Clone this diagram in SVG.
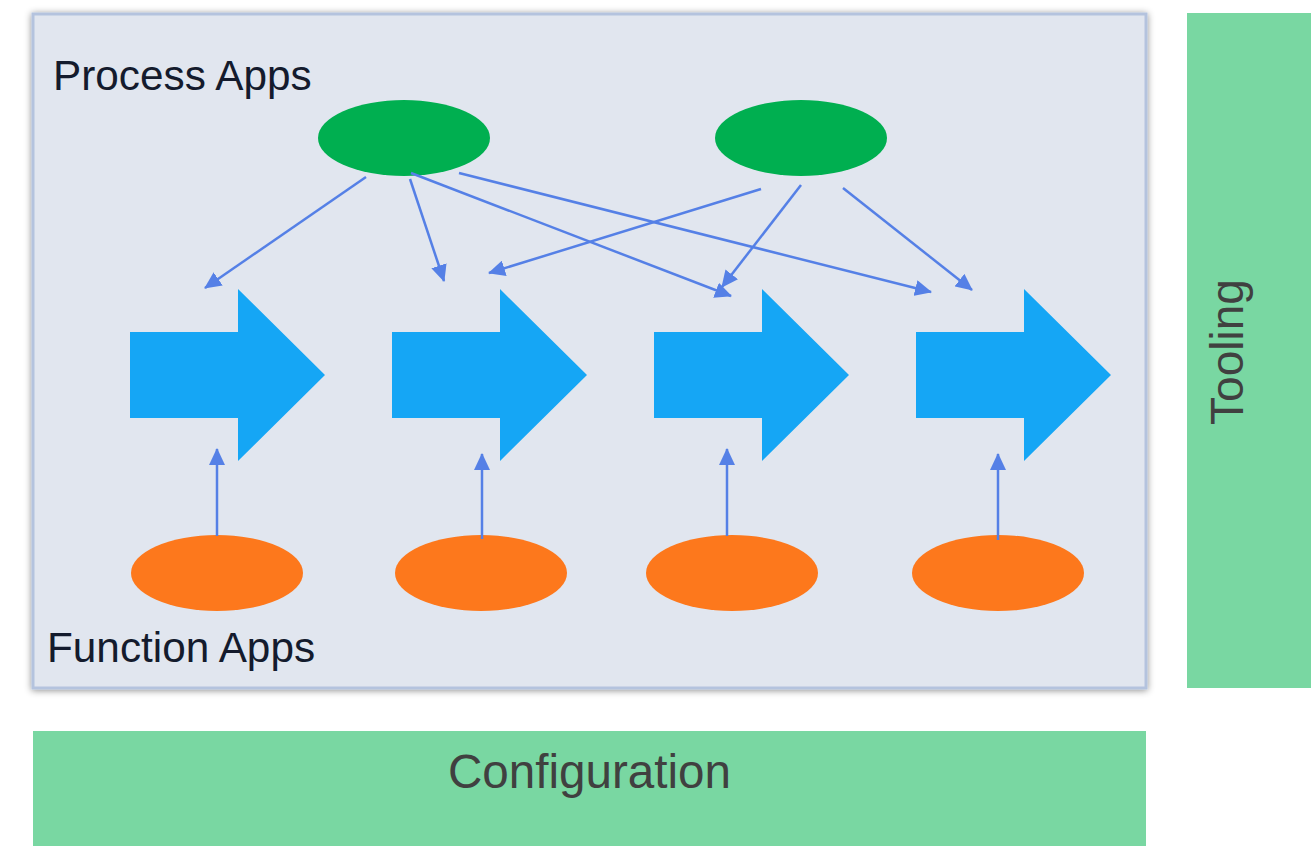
<svg xmlns="http://www.w3.org/2000/svg" width="1316" height="846" viewBox="0 0 1316 846">
<style>
.band{fill:#79d7a2}
.proc{fill:#00af50}
.func{fill:#fd781c}
.step{fill:#15a6f5}
.conn line{stroke:#5580e6;stroke-width:2.5;marker-end:url(#ah)}
.lbl{font-family:"Liberation Sans",Arial,sans-serif;font-size:42.3px;fill:#141b2d}
.blbl{font-family:"Liberation Sans",Arial,sans-serif;fill:#404040}
</style>
<defs>
<marker id="ah" markerUnits="userSpaceOnUse" markerWidth="17" markerHeight="16" refX="16" refY="8" orient="auto">
<path d="M0,0 L17,8 L0,16 Z" fill="#5580e6"/>
</marker>
<filter id="sh" x="-5%" y="-5%" width="110%" height="110%">
<feDropShadow dx="0" dy="1" stdDeviation="3.5" flood-color="#000" flood-opacity="0.45"/>
</filter>
</defs>
<rect width="1316" height="846" fill="#ffffff"/>
<g id="frame">
<rect x="33" y="14" width="1113" height="674" fill="#e1e6ef" stroke="#b4c3de" stroke-width="3" filter="url(#sh)"/>
<text class="lbl" x="53" y="90">Process Apps</text>
<text class="lbl" x="47" y="662">Function Apps</text>
</g>
<g id="tooling">
<rect class="band" x="1187" y="13" width="124" height="675"/>
<text class="blbl" font-size="46" text-anchor="middle" transform="translate(1243,352) rotate(-90)">Tooling</text>
</g>
<g id="configuration">
<rect class="band" x="33" y="731" width="1113" height="115"/>
<text class="blbl" font-size="47.6" x="589.5" y="788" text-anchor="middle">Configuration</text>
</g>
<g id="process-app-1"><ellipse class="proc" cx="404" cy="138" rx="86" ry="38"/></g>
<g id="process-app-2"><ellipse class="proc" cx="801" cy="138" rx="86" ry="38"/></g>
<g id="step-1"><polygon class="step" points="130,332 238,332 238,289 325,375 238,461 238,418 130,418"/></g>
<g id="step-2"><polygon class="step" points="392,332 500,332 500,289 587,375 500,461 500,418 392,418"/></g>
<g id="step-3"><polygon class="step" points="654,332 762,332 762,289 849,375 762,461 762,418 654,418"/></g>
<g id="step-4"><polygon class="step" points="916,332 1024,332 1024,289 1111,375 1024,461 1024,418 916,418"/></g>
<g id="function-app-1"><ellipse class="func" cx="217" cy="573" rx="86" ry="38"/></g>
<g id="function-app-2"><ellipse class="func" cx="481" cy="573" rx="86" ry="38"/></g>
<g id="function-app-3"><ellipse class="func" cx="732" cy="573" rx="86" ry="38"/></g>
<g id="function-app-4"><ellipse class="func" cx="998" cy="573" rx="86" ry="38"/></g>
<g id="connectors" class="conn">
<line x1="366" y1="177" x2="205" y2="288"/>
<line x1="410" y1="179" x2="444" y2="281"/>
<line x1="411" y1="173" x2="731" y2="296"/>
<line x1="459" y1="173" x2="931" y2="292"/>
<line x1="761" y1="189" x2="489" y2="273"/>
<line x1="801" y1="185" x2="722" y2="287"/>
<line x1="843" y1="188" x2="972" y2="290"/>
<line x1="217" y1="536" x2="217" y2="449"/>
<line x1="482" y1="539" x2="482" y2="454"/>
<line x1="727" y1="536" x2="727" y2="449"/>
<line x1="998" y1="540" x2="998" y2="454"/>
</g>
</svg>
